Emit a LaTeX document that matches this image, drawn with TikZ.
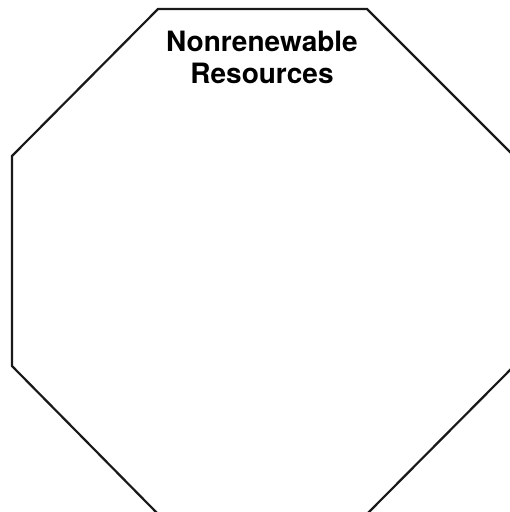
\documentclass[tikz,border=0pt]{standalone}
\usepackage{fontspec}
\setmainfont{TeX Gyre Heros}
\tikzset{
  octo/.style={draw=black!90, line width=2.2pt, line join=miter},
  title/.style={font=\bfseries\fontsize{28}{32}\selectfont, align=center, inner sep=0pt}
}
\begin{document}
\begin{tikzpicture}[x=1pt,y=-1pt]
\useasboundingbox (0,0) rectangle (510,512);
\begin{scope}
\clip (0,0) rectangle (510,512);
\draw[octo] (158,9) -- (367,9) -- (514,156) -- (514,366) -- (367,514) -- (158,514) -- (12,366) -- (12,156) -- cycle;
\end{scope}
\node[title, anchor=base] (t) at (262,83) {Nonrenewable\\Resources};
\end{tikzpicture}
\end{document}
